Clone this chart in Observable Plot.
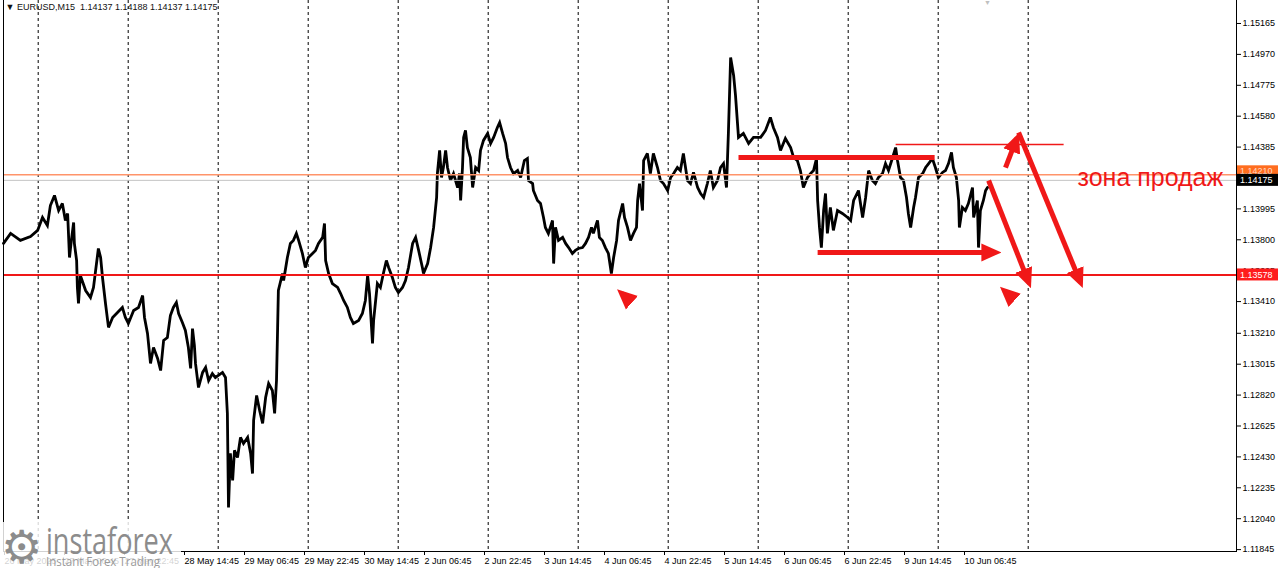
<!DOCTYPE html>
<html><head><meta charset="utf-8">
<script src="https://cdn.jsdelivr.net/npm/d3@7"></script>
<script src="https://cdn.jsdelivr.net/npm/@observablehq/plot@0.6"></script>
<style>
html,body{margin:0;padding:0;background:#fff;}
#wrap{position:relative;width:1280px;height:568px;overflow:hidden;background:#fff;}
#logo{position:absolute;left:0;top:522px;}
</style></head><body><div id="wrap"></div>
<script>
// ---- data (trading hours since 26 May 14:45, price) ----
const priceT = [0,1.9,4.5,7.2,9.1,10.4,11.7,12.5,13.6,14.7,15.7,16.5,17.1,17.6,18.1,18.7,18.9,19.5,19.7,20.0,
20.5,21.9,23.2,24.0,25.3,25.9,26.4,27.2,28.0,29.1,30.4,31.7,32.5,33.3,34.7,36.0,37.1,37.6,38.4,39.2,
40.0,41.1,41.9,42.7,43.7,44.5,45.3,46.1,46.7,47.7,48.5,49.3,49.9,50.4,50.9,51.2,52.0,53.1,53.9,54.7,
55.7,56.5,57.3,58.4,59.2,59.7,60.0,60.5,61.1,61.6,62.4,63.2,64.0,65.1,65.9,66.4,66.7,67.5,68.3,69.1,
69.9,70.7,71.7,72.3,72.8,73.1,73.3,74.4,74.7,75.7,76.5,77.3,78.1,78.7,79.7,80.5,81.3,82.4,83.2,84.0,
85.1,85.6,85.9,86.7,87.7,89.1,89.9,90.7,91.7,92.5,93.3,94.7,95.7,96.5,97.1,97.6,98.4,98.7,99.7,100.5,
101.3,102.1,102.7,103.7,104.5,105.3,106.4,107.2,108.0,109.1,109.9,110.7,111.7,112.0,113.1,113.9,114.7,115.5,115.7,116.3,
116.8,117.3,117.9,118.4,119.2,120.0,121.1,121.6,121.9,122.4,122.7,123.2,123.7,124.5,125.1,125.9,126.7,127.2,128.0,129.1,
129.9,130.7,131.7,132.3,133.1,133.9,134.4,135.2,136.0,137.1,137.9,138.9,139.7,140.0,141.1,141.3,142.4,143.2,144.0,144.5,
145.3,146.4,146.7,147.2,148.0,149.1,149.9,150.7,151.7,152.5,153.3,154.4,155.2,156.0,156.8,157.3,158.4,158.9,159.7,160.5,
161.3,162.1,162.7,163.5,164.0,165.1,165.6,166.4,167.2,168.0,168.8,169.1,169.6,170.4,170.7,171.7,172.5,173.3,174.4,175.2,
176.0,177.1,177.9,178.7,179.7,180.5,181.3,182.4,183.2,184.0,185.1,185.9,186.7,187.7,188.5,189.3,190.4,191.2,192.0,192.8,
193.3,193.9,194.7,195.2,196.0,197.3,198.7,200.0,201.9,203.2,204.5,205.3,206.4,207.2,208.5,209.9,210.7,211.7,212.5,213.3,
214.4,215.2,216.0,216.8,217.1,217.6,218.1,218.7,219.2,219.7,220.5,221.3,222.4,223.7,225.1,225.9,226.7,228.0,229.1,229.9,
230.7,231.7,232.5,233.3,234.4,235.2,236.0,237.1,237.9,238.4,239.2,240.0,240.8,241.3,241.9,242.7,243.2,244.0,245.1,245.9,
246.7,247.7,248.5,249.3,250.4,251.2,252.0,252.8,253.3,254.1,254.7,254.9,255.7,256.5,257.3,258.4,258.7,259.7,260.0,260.5,
261.3,261.9,262.4];
const priceP = [1.13777,1.13840,1.13796,1.13821,1.13859,1.13941,1.13890,1.14016,1.14080,1.13985,1.14029,1.13922,1.13966,1.13688,1.13796,1.13909,1.13777,1.13669,1.13499,1.13398,
1.13575,1.13480,1.13436,1.13499,1.13745,1.13688,1.13562,1.13398,1.13247,1.13310,1.13341,1.13373,1.13310,1.13272,1.13354,1.13373,1.13448,1.13310,1.13209,1.13020,
1.13120,1.13051,1.12975,1.13165,1.13183,1.13322,1.13373,1.13404,1.13335,1.13278,1.13228,1.13120,1.12988,1.13240,1.13133,1.13020,1.12868,1.12963,1.12994,1.12912,
1.12956,1.12931,1.12944,1.12963,1.12931,1.12704,1.12111,1.12452,1.12281,1.12471,1.12426,1.12553,1.12515,1.12553,1.12452,1.12325,1.12660,1.12818,1.12723,1.12641,
1.12805,1.12893,1.12849,1.12704,1.12912,1.13247,1.13480,1.13587,1.13543,1.13688,1.13777,1.13796,1.13840,1.13796,1.13714,1.13625,1.13688,1.13714,1.13733,1.13777,
1.13815,1.13903,1.13669,1.13587,1.13524,1.13499,1.13461,1.13417,1.13373,1.13310,1.13272,1.13291,1.13335,1.13417,1.13575,1.13461,1.13146,1.13291,1.13524,1.13499,
1.13587,1.13669,1.13625,1.13562,1.13499,1.13467,1.13499,1.13543,1.13625,1.13777,1.13815,1.13733,1.13625,1.13587,1.13650,1.13751,1.13878,1.14067,1.14218,1.14364,
1.14193,1.14256,1.14364,1.14256,1.14174,1.14218,1.14130,1.14218,1.14048,1.14256,1.14446,1.14490,1.14382,1.14319,1.14130,1.14256,1.14237,1.14364,1.14427,1.14471,
1.14408,1.14446,1.14509,1.14540,1.14471,1.14408,1.14319,1.14256,1.14218,1.14237,1.14193,1.14300,1.14313,1.14174,1.14155,1.14111,1.14048,1.14029,1.13941,1.13878,
1.13840,1.13922,1.13650,1.13878,1.13796,1.13815,1.13777,1.13751,1.13714,1.13733,1.13745,1.13751,1.13777,1.13815,1.13878,1.13840,1.13922,1.13815,1.13796,1.13751,
1.13714,1.13587,1.13688,1.13796,1.13922,1.14029,1.13941,1.13878,1.13796,1.13840,1.13878,1.14048,1.14155,1.13985,1.14300,1.14345,1.14218,1.14345,1.14256,1.14174,
1.14155,1.14111,1.14193,1.14218,1.14256,1.14237,1.14345,1.14174,1.14155,1.14225,1.14130,1.14092,1.14067,1.14155,1.14237,1.14130,1.14174,1.14256,1.14281,1.14130,
1.14471,1.14950,1.14837,1.14711,1.14446,1.14471,1.14408,1.14446,1.14446,1.14490,1.14572,1.14509,1.14446,1.14364,1.14439,1.14382,1.14319,1.14300,1.14237,1.14130,
1.14193,1.14218,1.14237,1.14313,1.14048,1.13878,1.13751,1.13985,1.14092,1.13840,1.14004,1.13859,1.13985,1.13966,1.13941,1.13922,1.14048,1.14111,1.13941,1.14067,
1.14237,1.14174,1.14155,1.14193,1.14218,1.14281,1.14237,1.14319,1.14382,1.14300,1.14193,1.14174,1.14067,1.13966,1.13878,1.14004,1.14067,1.14193,1.14218,1.14256,
1.14281,1.14313,1.14256,1.14193,1.14225,1.14237,1.14281,1.14351,1.14256,1.14193,1.14048,1.13878,1.14004,1.13985,1.14029,1.14130,1.13941,1.14048,1.13751,1.13985,
1.14048,1.14111,1.14130];

const yTicks = [1.15165,1.14970,1.14775,1.14580,1.14385,1.14190,1.13995,1.13800,1.13605,1.13410,1.13210,1.13015,1.12820,1.12625,1.12430,1.12235,1.12040,1.11845];
const xTickHours = [0,16,32,48,64,80,96,112,128,144,160,176,192,208,224,240,256];
const xTickLabels = ["26 May 2025","27 May 06:45","27 May 22:45","28 May 14:45","29 May 06:45","29 May 22:45","30 May 14:45","2 Jun 06:45","2 Jun 22:45","3 Jun 14:45","4 Jun 06:45","4 Jun 22:45","5 Jun 14:45","6 Jun 06:45","6 Jun 22:45","9 Jun 14:45","10 Jun 06:45"];
const gridHours = [9.25,33.25,57.25,81.25,105.25,129.25,153.25,177.25,201.25,225.25,249.25,273.25];
const xDomain = [0, 328.8];
const yDomain = [1.11833, 1.1531];

const levelRed = 1.13578;
const levelOrange = 1.14210;
const bidPrice = 1.14175;
const header = "▼ EURUSD,M15  1.14137 1.14188 1.14137 1.14175";
const zoneText = "зона продаж";
const zonePos = [{t: 286.4, p: 1.1419}];

// analyst annotations (time, price)
const thickLines = [{t1:196.0,p1:1.14319,t2:248.3,p2:1.14319}];
const thinLines  = [{t1:237.9,p1:1.14401,t2:282.7,p2:1.14401}];
const arrows = [
  {t1:217.1,p1:1.13720,t2:264.5,p2:1.13720},
  {t1:267.2,p1:1.14256,t2:270.2,p2:1.14440},
  {t1:270.7,p1:1.14477,t2:287.2,p2:1.13530},
  {t1:262.7,p1:1.14174,t2:273.4,p2:1.13530},
  {t1:269.1,p1:1.13430,t2:266.9,p2:1.13478},
  {t1:167.2,p1:1.13411,t2:164.8,p2:1.13462}
];

// ---- build ----
const series = priceT.map((t, i) => ({t, p: priceP[i]}));
const arrowRows = arrows.flatMap((a, i) => [{t: a.t1, p: a.p1, id: i}, {t: a.t2, p: a.p2, id: i}]);
const labelMap = new Map(xTickHours.map((h, i) => [h, xTickLabels[i]]));
const RED = "#f01818";

function headMarker(color) {
  const m = d3.create("svg:marker")
    .attr("viewBox", "-7 -5 10 10")
    .attr("markerWidth", 4).attr("markerHeight", 4)
    .attr("orient", "auto")
    .attr("fill", color).attr("stroke", "none");
  m.append("path").attr("d", "M3,0L-7,-4.5L-7,4.5Z");
  return m.node();
}

const chart = Plot.plot({
  width: 1280, height: 568,
  marginLeft: 3, marginRight: 44, marginTop: 0, marginBottom: 17,
  style: {fontFamily: "'Liberation Sans', Arial, sans-serif", fontSize: "9px", background: "white", color: "black"},
  x: {domain: xDomain, axis: null},
  y: {domain: yDomain, axis: null},
  marks: [
    Plot.ruleX(gridHours, {stroke: "black", strokeDasharray: "3,3", strokeWidth: 1}),
    Plot.line(series, {x: "t", y: "p", stroke: "black", strokeWidth: 2.8, strokeLinejoin: "miter", strokeMiterlimit: 3}),
    Plot.ruleY([bidPrice], {stroke: "#c4c4c4", strokeWidth: 1}),
    Plot.ruleY([levelOrange], {stroke: "#ff946a", strokeWidth: 1.5}),
    Plot.ruleY([levelRed], {stroke: RED, strokeWidth: 2}),
    Plot.link(thickLines, {x1: "t1", y1: "p1", x2: "t2", y2: "p2", stroke: RED, strokeWidth: 5}),
    Plot.link(thinLines, {x1: "t1", y1: "p1", x2: "t2", y2: "p2", stroke: RED, strokeWidth: 1.5}),
    Plot.line(arrowRows, {x: "t", y: "p", z: "id", stroke: RED, strokeWidth: 5, strokeLinecap: "butt", markerEnd: headMarker}),
    Plot.text(zonePos, {x: "t", y: "p", text: () => zoneText, textAnchor: "start", fontSize: 25, fill: RED}),
    Plot.text([header], {frameAnchor: "top-left", text: d => d, dx: 2, dy: 3, lineAnchor: "top", textAnchor: "start", fontSize: 9, fill: "#111"}),
    Plot.text([priceT[priceT.length - 1]], {x: d => d, frameAnchor: "top", text: () => "▼", lineAnchor: "top", dy: 0, fontSize: 7, fill: "#c0c0c0"}),
    Plot.axisY(yTicks, {anchor: "right", tickSize: 4, tickPadding: 2, tickFormat: d => d.toFixed(5), fontSize: 9}),
    Plot.axisX(xTickHours, {anchor: "bottom", tickSize: 4, tickPadding: 2, tickFormat: d => labelMap.get(d), textAnchor: "start", dx: 1, fontSize: 9}),
    Plot.frame({anchor: "left", stroke: "black"}),
    Plot.frame({anchor: "right", stroke: "black"}),
    Plot.frame({anchor: "bottom", stroke: "black"})
  ]
});

// price labels on the right scale (drawn with the chart's own y scale)
const ys = chart.scale("y");
const xr = chart.scale("x").range;
const svg = d3.select(chart);
function priceBox(price, fill, text, ink, dyOff) {
  const yy = ys.apply(price) + dyOff;
  const g = svg.append("g").attr("text-anchor", "start");
  g.append("rect").attr("x", xr[1] + 1).attr("y", yy - 6).attr("width", 41).attr("height", 12).attr("fill", fill);
  g.append("text").attr("x", xr[1] + 4).attr("y", yy).attr("dy", "0.35em").attr("fill", ink)
    .attr("text-anchor", "start").attr("font-size", 9).text(text);
}
priceBox(levelOrange, "#ff6d1f", levelOrange.toFixed(5), "#ffd9c4", -3);
priceBox(bidPrice, "#000", bidPrice.toFixed(5), "#fff", 0);
priceBox(levelRed, "#ff1c1c", levelRed.toFixed(5), "#fff", 0);

const wrap = document.getElementById("wrap");
wrap.appendChild(chart);

// instaforex watermark
const logo = d3.select(wrap).append("svg").attr("id", "logo").attr("width", 181).attr("height", 46);
logo.append("rect").attr("width", 181).attr("height", 46).attr("fill", "white").attr("fill-opacity", 0.82);
logo.append("text").attr("x", 1).attr("y", 41).attr("font-family", "DejaVu Sans").attr("font-size", 46)
  .attr("fill", "#8c8c8c").text("⚙");
logo.append("text").attr("x", 46).attr("y", 32).attr("font-family", "'Open Sans', sans-serif").attr("font-size", 36)
  .attr("textLength", 127).attr("lengthAdjust", "spacingAndGlyphs").attr("fill", "#8c8c8c").text("instaforex");
logo.append("text").attr("x", 46).attr("y", 44).attr("font-family", "'Open Sans', sans-serif").attr("font-size", 12.5)
  .attr("textLength", 114).attr("lengthAdjust", "spacingAndGlyphs").attr("fill", "#9a9a9a").text("Instant Forex Trading");
</script></body></html>
